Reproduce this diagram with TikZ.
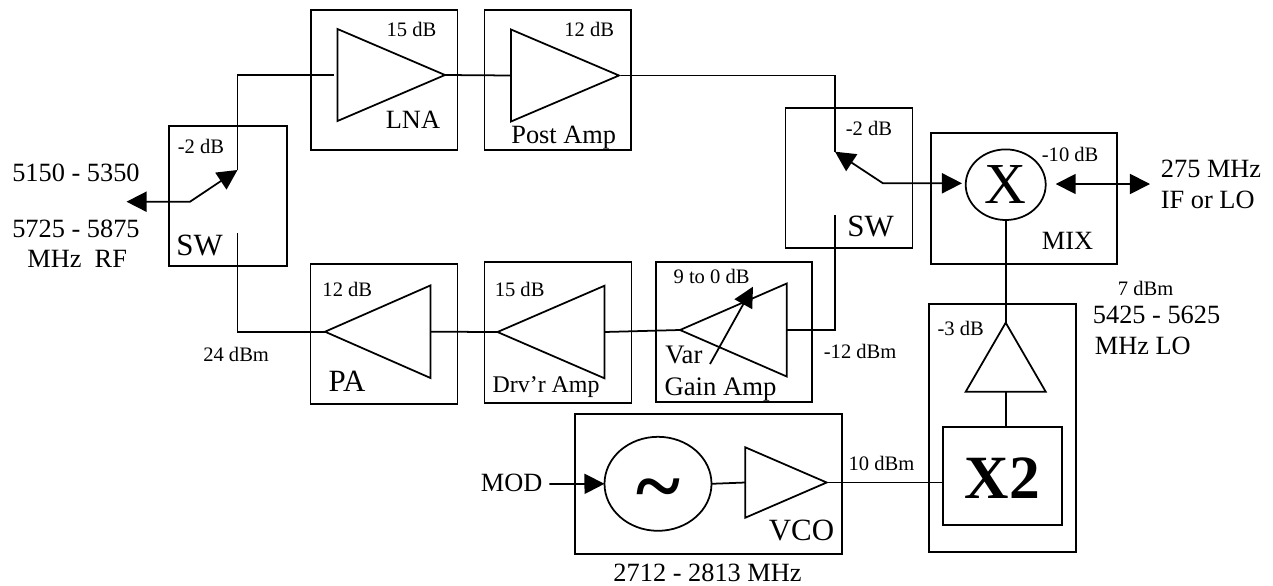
\documentclass[tikz,border=0pt]{standalone}
\usepackage{fontspec}
\setmainfont{Liberation Serif}
\usetikzlibrary{arrows.meta}
\usetikzlibrary{shapes.geometric}

\tikzset{
  blockbox/.style 2 args={draw, rectangle, inner sep=0pt, outer sep=0pt,
    minimum width=#1*0.02cm, minimum height=#2*0.02cm},
  amptri/.style n args={3}{draw, isosceles triangle, isosceles triangle stretches,
    inner sep=0pt, outer sep=0pt, anchor=lower side, shape border rotate=#1,
    minimum height=#2*0.02cm, minimum width=#3*0.02cm},
  roundel/.style 2 args={draw, ellipse, inner sep=0pt, outer sep=0pt,
    minimum width=#1*0.02cm, minimum height=#2*0.02cm},
  gainlabel/.style={anchor=base west, inner sep=0pt, font=\fontsize{11.7}{13}\selectfont},
  namelabel/.style={anchor=base west, inner sep=0pt, font=\fontsize{15}{17}\selectfont},
  biglabel/.style={anchor=base west, inner sep=0pt, font=\fontsize{17.6}{20}\selectfont},
}

\begin{document}
\begin{tikzpicture}[x=0.02cm, y=-0.02cm, line width=1pt,
    >={Triangle[length=11.4pt, width=11.4pt]}]
  \useasboundingbox (0,0) rectangle (1273,585);

  \node [blockbox={118}{140}] (swleft) at (228,196) {};
  \node [blockbox={146.5}{140}] (lnabox) at (384.25,80) {};
  \node [blockbox={146.5}{140}] (postbox) at (557.75,80) {};
  \node [blockbox={127}{140.3}] (swright) at (849,177.85) {};
  \node [blockbox={186}{130.4}] (mixbox) at (1024,198.5) {};
  \node [blockbox={147}{140.3}] (pabox) at (384.1,333.85) {};
  \node [blockbox={147}{140.4}] (drvbox) at (558,332.5) {};
  \node [blockbox={155.4}{140}] (varbox) at (734,331.7) {};
  \node [blockbox={267.3}{140.3}] (vcobox) at (708.65,483.85) {};
  \node [blockbox={146.7}{248}] (lobox) at (1002.35,427.7) {};
  \node [blockbox={119.6}{98.3}] (dblbox) at (1002.5,475.85) {};

  \node [amptri={0}{107.5}{92}] (lnaamp) at (337.5,75) {};
  \node [amptri={0}{108}{92}] (postamp) at (511,75.5) {};
  \node [amptri={180}{105.6}{92.7}] (paamp) at (430.6,331.7) {};
  \node [amptri={180}{107}{92.6}] (drvamp) at (604.5,332) {};
  \node [amptri={180}{106.7}{93}] (varamp) at (786.7,330) {};
  \node [amptri={0}{81.4}{70.4}] (vcoamp) at (745.3,482.5) {};
  \node [amptri={90}{69}{80}] (loamp) at (1005.7,391.7) {};

  \node [roundel={80}{70.6}, font=\fontsize{33}{33}\selectfont] (mixer) at (1005.7,184.7) {X};
  \node [roundel={107}{94}, font=\fontsize{48}{48}\selectfont\bfseries] (osc) at (658,483.8)
    {\raisebox{-17.5pt}[0pt][0pt]{\textasciitilde}};

  \coordinate (swlpole) at (237.5,170);
  \coordinate (swlthrow) at (190,201.7);
  \coordinate (rfport) at (126.5,201.7);
  \coordinate (swllow) at (237.5,233);
  \coordinate (swrpole) at (835,151.7);
  \coordinate (swrthrow) at (883,183.3);
  \coordinate (mixin) at (962,183.3);
  \coordinate (swrlow) at (835,215);
  \coordinate (ifin) at (1055.7,184);
  \coordinate (ifport) at (1150,184);
  \coordinate (modport) at (549.4,484);
  \coordinate (varfoot) at (710,364);
  \coordinate (varhead) at (753,286.7);

  \draw [<->] (rfport) -- (swlthrow) -- (swlpole);
  \draw [shorten >=2pt] (swlpole) |- (lnaamp.lower side);
  \draw (swllow) |- (paamp.apex);
  \draw (lnaamp.apex) -- (postamp.lower side);
  \draw [shorten <=1pt] (postamp.apex) -| (swrpole);
  \draw [<->] (swrpole) -- (swrthrow) -- (mixin);
  \draw (varamp.lower side) -| (swrlow);
  \draw (paamp.lower side) -- (drvamp.apex);
  \draw (drvamp.lower side) -- (varamp.apex);
  \draw [->] (varfoot) -- (varhead);
  \draw [<->] (ifin) -- (ifport);
  \draw (mixer.south) -- (loamp.apex);
  \draw (loamp.lower side) -- (loamp.lower side |- dblbox.north);
  \draw [->] (modport) -- (osc.west);
  \draw (osc.east) -- (vcoamp.lower side);
  \draw (vcoamp.apex) -- (vcoamp.apex -| dblbox.west);

  \node [namelabel] (rfbandlow) at (11.4,181.7) {5150 - 5350};
  \node [namelabel] (rfbandhigh) at (11.4,237.3) {5725 - 5875};
  \node [namelabel] (rfname) at (26.5,267.7) {MHz\ \ RF};
  \node [gainlabel] (swlgain) at (177,153) {-2 dB};
  \node [biglabel] (swlname) at (175.5,255) {SW};
  \node [gainlabel] (lnagain) at (385.7,36) {15 dB};
  \node [namelabel] (lnaname) at (385,128) {LNA};
  \node [gainlabel] (postgain) at (563.5,36) {12 dB};
  \node [namelabel] (postname) at (510.5,143) {Post Amp};
  \node [gainlabel] (swrgain) at (845,135) {-2 dB};
  \node [biglabel] (swrname) at (846.5,236.7) {SW};
  \node [gainlabel] (mixgain) at (1041,161) {-10 dB};
  \node [namelabel] (mixname) at (1041,249) {MIX};
  \node [namelabel] (ifband) at (1160,177.3) {275 MHz};
  \node [namelabel] (ifname) at (1160,208) {IF or LO};
  \node [gainlabel] (lopower) at (1117,295) {7 dBm};
  \node [namelabel] (loband) at (1092,323.3) {5425 - 5625};
  \node [namelabel] (loname) at (1094,354.3) {MHz LO};
  \node [gainlabel] (pagain) at (321.6,296.7) {12 dB};
  \node [biglabel] (paname) at (327.8,391) {PA};
  \node [gainlabel] (papower) at (202.4,361.7) {24 dBm};
  \node [gainlabel] (drvgain) at (493.9,296.7) {15 dB};
  \node [gainlabel, font=\fontsize{13.6}{15}\selectfont] (drvname) at (491.8,392.7) {Drv’r Amp};
  \node [gainlabel] (vargain) at (672.7,283.3) {9 to 0 dB};
  \node [gainlabel, font=\fontsize{15.2}{17}\selectfont] (varname) at (664.5,363.3) {Var};
  \node [gainlabel, font=\fontsize{15.2}{17}\selectfont] (gainname) at (663.7,395.7) {Gain Amp};
  \node [gainlabel] (varpower) at (823,358.7) {-12 dBm};
  \node [namelabel] (modname) at (480,491.7) {MOD};
  \node [biglabel] (vconame) at (768,540.7) {VCO};
  \node [namelabel] (vcoband) at (612.6,581.7) {2712 - 2813 MHz};
  \node [gainlabel] (vcopower) at (847.7,470.7) {10 dBm};
  \node [gainlabel] (logain) at (936.7,335) {-3 dB};
  \node [anchor=base west, inner sep=0pt, font=\fontsize{35}{35}\selectfont\bfseries] (dblname) at (964,498) {X2};
\end{tikzpicture}
\end{document}
